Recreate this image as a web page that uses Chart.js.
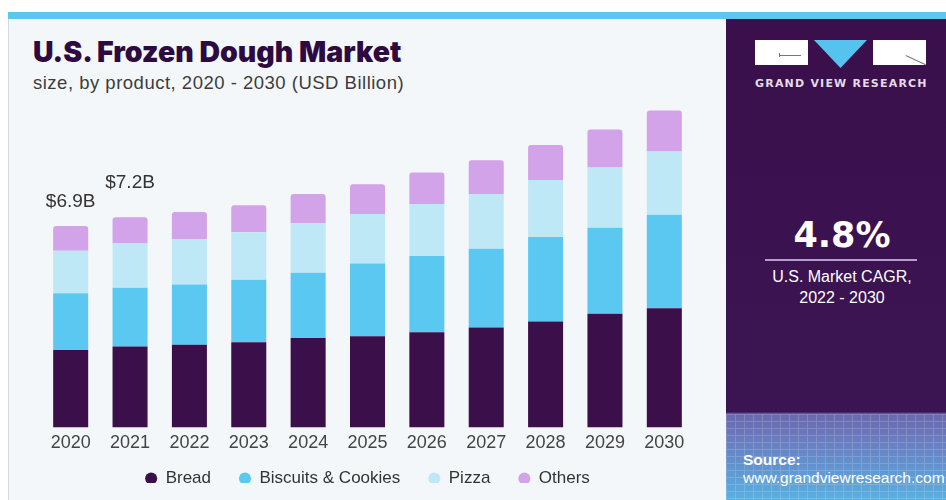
<!DOCTYPE html>
<html lang="en">
<head>
<meta charset="UTF-8">
<title>U.S. Frozen Dough Market</title>
<script src="https://cdn.jsdelivr.net/npm/chart.js"></script>
<style>
  body { margin: 0; width: 946px; height: 500px; position: relative; overflow: hidden; background: #fff; font-family: "Liberation Sans", Arial, sans-serif; }
  .stripe { position: absolute; left: 8px; top: 12px; width: 938px; height: 7px; background: #5bc6ee; }
  .panel { position: absolute; left: 8px; top: 19px; width: 718px; height: 481px; background: #f3f7fa; border-left: 1px solid #d3d8dc; }
  .title { position: absolute; left: 33px; top: 34px; font: 900 28.5px "Inter", "DejaVu Sans", sans-serif; color: #2d0b40; }
  .subtitle { position: absolute; left: 33px; top: 72px; font-size: 18.5px; letter-spacing: 0.5px; color: #3c3c3c; }
  .side { position: absolute; left: 726px; top: 19px; width: 220px; height: 481px;
          background: linear-gradient(to bottom, #3a0f4b 0px, #3b1553 393px, #6a68ad 395px, #6b7cc0 420px, #58b0e2 481px); }
  .grid { position: absolute; left: 0; top: 395px; width: 220px; height: 86px; opacity: 0.16;
          background:
            repeating-linear-gradient(to right, #fff 0 1px, transparent 1px 9px),
            repeating-linear-gradient(to bottom, #fff 0 1px, transparent 1px 7px); }
  .box { position: absolute; top: 21px; width: 53px; height: 25px; background: #fff; }
  .tri { position: absolute; left: 88px; top: 21px; width: 53px; height: 28px; background: #55c3ee; clip-path: polygon(0 0, 100% 0, 50% 100%); }
  .brand { position: absolute; left: 29px; top: 58px; font: bold 11px "DejaVu Sans", sans-serif; color: #e4dbe8; letter-spacing: 1.2px; }
  .cagr { position: absolute; left: 0; width: 232px; text-align: center; color: #fff; }
  .rule { position: absolute; left: 39px; top: 240px; width: 152px; height: 2px; background: #b69ccc; }
  .source { position: absolute; left: 17px; top: 432px; color: #fff; font-size: 15.5px; line-height: 18px; }
  #chart { position: absolute; left: 0; top: 0; }
</style>
</head>
<body>
<div class="stripe"></div>
<div class="panel"></div>
<div class="title">U.S. Frozen Dough Market</div>
<div class="subtitle">size, by product, 2020 - 2030 (USD Billion)</div>

<div class="side">
  <div class="grid"></div>
  <div class="box" style="left:29px"><div style="position:absolute;left:24px;top:15px;width:22px;height:1px;background:#777"></div><div style="position:absolute;left:24px;top:13px;width:1px;height:4px;background:#777"></div></div>
  <div class="tri"></div>
  <div class="box" style="left:147px"><div style="position:absolute;left:33px;top:15px;width:22px;height:1px;background:#777;transform:rotate(25deg);transform-origin:0 0"></div></div>
  <div class="brand">GRAND VIEW RESEARCH</div>
  <div class="cagr" style="top:196px;font:bold 35px 'DejaVu Sans', sans-serif;">4.8%</div>
  <div class="rule"></div>
  <div class="cagr" style="top:247px;font-size:16px;line-height:21px;">U.S. Market CAGR,<br>2022 - 2030</div>
  <div class="source"><b>Source:</b><br>www.grandviewresearch.com</div>
</div>

<canvas id="chart" width="726" height="500"></canvas>

<script>
// market size by product, USD billion
const years = ['2020', '2021', '2022', '2023', '2024', '2025', '2026', '2027', '2028', '2029', '2030'];
const bread    = [2.65, 2.77, 2.83, 2.92, 3.06, 3.12, 3.26, 3.42, 3.63, 3.89, 4.08];
const biscuits = [1.94, 2.01, 2.06, 2.14, 2.24, 2.49, 2.61, 2.70, 2.89, 2.95, 3.20];
const pizza    = [1.46, 1.52, 1.56, 1.62, 1.69, 1.70, 1.78, 1.87, 1.95, 2.06, 2.17];
const others   = [0.85, 0.90, 0.93, 0.93, 1.00, 1.02, 1.08, 1.16, 1.20, 1.30, 1.40];
const labelledYears = ['2020', '2021'];

const FONT = '"Liberation Sans", Arial, sans-serif';

// total labels above the first bars, each with its own lift
const totalLabels = {
  id: 'totalLabels',
  afterDatasetsDraw(chart) {
    const ctx = chart.ctx;
    const top = chart.getDatasetMeta(chart.data.datasets.length - 1);
    const lifts = [24, 34];
    ctx.save();
    ctx.font = '19px ' + FONT;
    ctx.fillStyle = '#333';
    ctx.textAlign = 'center';
    ctx.textBaseline = 'middle';
    labelledYears.forEach((y, n) => {
      const i = years.indexOf(y);
      const total = bread[i] + biscuits[i] + pizza[i] + others[i];
      const bar = top.data[i];
      ctx.fillText('$' + total.toFixed(1) + 'B', bar.x, bar.y - lifts[n]);
    });
    ctx.restore();
  }
};

// legend padding is wide horizontally; pull the row back up closer to the axis
const legendLift = {
  id: 'legendLift',
  afterLayout(chart) {
    chart.legend.top -= 17;
    chart.legend.bottom -= 17;
  }
};

new Chart(document.getElementById('chart'), {
  type: 'bar',
  data: {
    labels: years,
    datasets: [
      { label: 'Bread', data: bread, backgroundColor: '#3b0f4a' },
      { label: 'Biscuits & Cookies', data: biscuits, backgroundColor: '#5bc8f2' },
      { label: 'Pizza', data: pizza, backgroundColor: '#bfe8f7' },
      { label: 'Others', data: others, backgroundColor: '#d2a3e8',
        borderRadius: { topLeft: 3, topRight: 3, bottomLeft: 0, bottomRight: 0 }, borderSkipped: false }
    ]
  },
  options: {
    responsive: false,
    animation: false,
    datasets: { bar: { categoryPercentage: 1, barPercentage: 0.59 } },
    layout: { padding: { left: 41, right: 32, top: 77, bottom: 0 } },
    scales: {
      x: {
        stacked: true,
        grid: { display: false, drawTicks: false },
        border: { display: false },
        ticks: { color: '#444', font: { size: 18, family: FONT }, padding: 5 }
      },
      y: { stacked: true, display: false, min: 0, max: 12 }
    },
    plugins: {
      tooltip: { enabled: false },
      legend: {
        position: 'bottom',
        maxHeight: 41,
        labels: {
          usePointStyle: true,
          pointStyle: 'circle',
          boxWidth: 12,
          boxHeight: 8.5,
          padding: 28,
          color: '#333',
          font: { size: 17, family: FONT }
        }
      }
    }
  },
  plugins: [totalLabels, legendLift]
});
</script>
</body>
</html>
